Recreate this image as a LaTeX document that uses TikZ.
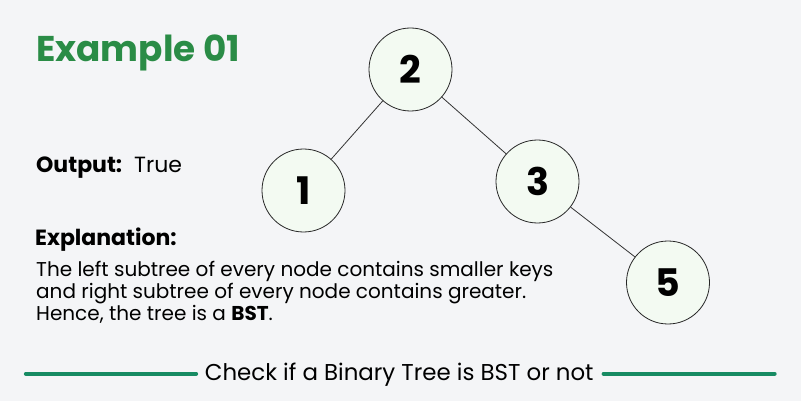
\documentclass[tikz,border=0pt]{standalone}
\usepackage{fontspec}
\setmainfont{Poppins}
\definecolor{bg}{HTML}{F4F5F7}
\definecolor{titlegreen}{HTML}{2A8C46}
\definecolor{rulegreen}{HTML}{178B63}
\definecolor{nodefill}{HTML}{F3FAF2}
\tikzset{
  treenode/.style={circle, draw=black!85, line width=0.8pt, fill=nodefill, minimum size=83pt, inner sep=0pt, font=\fontsize{38}{40}\selectfont\bfseries},
  edge/.style={draw=black!80, line width=0.8pt},
  bodytext/.style={anchor=base west, inner sep=0pt, font=\fontsize{20}{22.3}\selectfont},
  headtext/.style={anchor=base west, inner sep=0pt, font=\fontsize{22}{24}\selectfont},
  footrule/.style={rulegreen, line width=4.3pt, line cap=round}
}
\begin{document}
\begin{tikzpicture}[x=1pt,y=-1pt]
\fill[bg] (0,0) rectangle (801,401);
\useasboundingbox (0,0) rectangle (801,401);

\node[anchor=base west, inner sep=0pt, text=titlegreen, font=\fontsize{35.8}{40}\selectfont\bfseries] (title) at (36,62) {Example 01};

\node[headtext] (out) at (36,172.7) {\textbf{Output:}\hspace{12pt}True};

\node[headtext, font=\fontsize{22}{24}\selectfont\bfseries] (expl) at (35,245.7) {Explanation:};

\node[bodytext] (l1) at (36,276) {The left subtree of every node contains smaller keys};
\node[bodytext] (l2) at (36,298.3) {and right subtree of every node contains greater.};
\node[bodytext] (l3) at (36,320.7) {Hence, the tree is a \textbf{BST}.};

\node[treenode] (n2) at (410.5,69.5) {2};
\node[treenode] (n1) at (303.5,190.5) {1};
\node[treenode] (n3) at (537.5,181.5) {3};
\node[treenode] (n5) at (668,282.5) {5};

\draw[edge] (n2) -- (n1);
\draw[edge] (n2) -- (n3);
\draw[edge] (n3) -- (n5);

\node[anchor=base west, inner sep=0pt, font=\fontsize{22.9}{26}\selectfont] (foot) at (204.7,380) {Check if a Binary Tree is BST or not};
\coordinate (la) at (26,373.7);
\coordinate (rb) at (774.5,373.7);
\draw[footrule] (la) -- ([xshift=-8.7pt]foot.west |- la);
\draw[footrule] ([xshift=10pt]foot.east |- rb) -- (rb);
\end{tikzpicture}
\end{document}
